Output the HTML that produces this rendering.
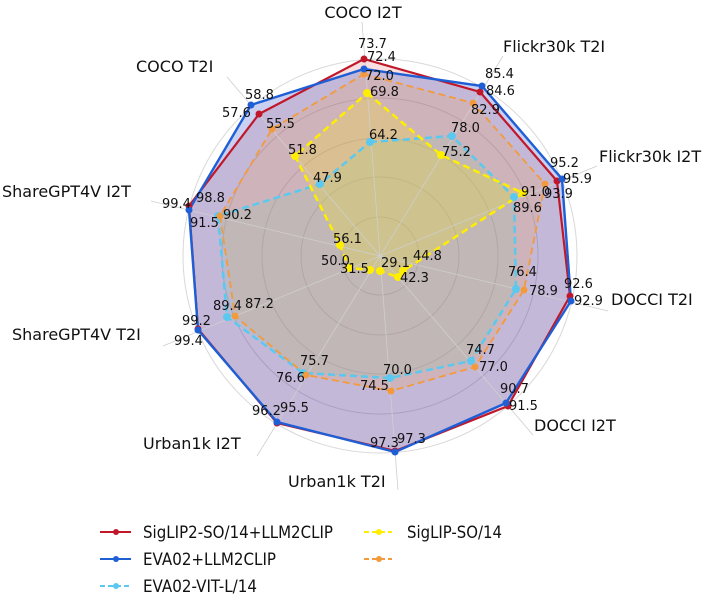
<!DOCTYPE html>
<html><head><meta charset="utf-8"><style>
html,body{margin:0;padding:0;background:#fff;}
svg{display:block;font-family:"DejaVu Sans","Liberation Sans",sans-serif;}
.ax{font-size:16px;fill:#111;}
.v{font-size:13px;fill:#111;}
.lg{font-size:16.5px;fill:#111;font-family:"DejaVu Sans",sans-serif;}
</style></head><body>
<svg width="719" height="598" viewBox="0 0 719 598" xmlns="http://www.w3.org/2000/svg">
<rect width="719" height="598" fill="#fff"/>
<g fill="none" stroke="#d8d8d8" stroke-width="1">
<circle cx="380" cy="256" r="39"/><circle cx="380" cy="256" r="79"/><circle cx="380" cy="256" r="118"/><circle cx="380" cy="256" r="158"/><circle cx="380" cy="256" r="197"/>
</g>
<polygon points="364,59 480,92 557,181 570,296 508,406 395,451 277,423 198,329 189,206 259,114" fill="#d62728" fill-opacity="0.15"/>
<polygon points="364,69 482,86 562,179 571,301 506,403 395,452 277,422 198,330 189,210 251,105" fill="#3048c8" fill-opacity="0.26"/>
<polygon points="364,74 473,103 545,184 524,290 475,367 391,391 306,375 235,316 220,216 272,129" fill="#ff9f40" fill-opacity="0.2"/>
<polygon points="370,142 452,136 514,197 516,289 471,361 390,378 303,373 227,317 218,216 320,184" fill="#8ec8b0" fill-opacity="0.2"/>
<polygon points="367,93 441,155 523,193 403,271 398,277 380,271 370,270 349,268 340,245 295,156" fill="#ffee00" fill-opacity="0.22"/>
<g stroke="#cfcfcf" stroke-width="0.8">
<line x1="380" y1="256" x2="362" y2="22"/><line x1="380" y1="256" x2="503" y2="56"/><line x1="380" y1="256" x2="597" y2="166"/><line x1="380" y1="256" x2="608" y2="311"/><line x1="380" y1="256" x2="533" y2="435"/><line x1="380" y1="256" x2="398" y2="490"/><line x1="380" y1="256" x2="257" y2="456"/><line x1="380" y1="256" x2="163" y2="346"/><line x1="380" y1="256" x2="151" y2="201"/><line x1="380" y1="256" x2="227" y2="77"/>
</g>
<polygon points="370,142 452,136 514,197 516,289 471,361 390,378 303,373 227,317 218,216 320,184" fill="none" stroke="#5bc8f0" stroke-width="2.5" stroke-dasharray="7,4"/>
<polygon points="364,74 473,103 545,184 524,290 475,367 391,391 306,375 235,316 220,216 272,129" fill="none" stroke="#f39a3c" stroke-width="1.8" stroke-dasharray="7,4"/>
<polygon points="367,93 441,155 523,193 403,271 398,277 380,271 370,270 349,268 340,245 295,156" fill="none" stroke="#ffee00" stroke-width="2.5" stroke-dasharray="7,4"/>
<polygon points="364,59 480,92 557,181 570,296 508,406 395,451 277,423 198,329 189,206 259,114" fill="none" stroke="#c0182a" stroke-width="2.2"/>
<polygon points="364,69 482,86 562,179 571,301 506,403 395,452 277,422 198,330 189,210 251,105" fill="none" stroke="#1f5fd6" stroke-width="2.4"/>
<g fill="#5bc8f0"><circle cx="370" cy="142" r="4"/><circle cx="452" cy="136" r="4"/><circle cx="514" cy="197" r="4"/><circle cx="516" cy="289" r="4"/><circle cx="471" cy="361" r="4"/><circle cx="390" cy="378" r="4"/><circle cx="303" cy="373" r="4"/><circle cx="227" cy="317" r="4"/><circle cx="218" cy="216" r="4"/><circle cx="320" cy="184" r="4"/></g>
<g fill="#f39a3c"><circle cx="364" cy="74" r="3.5"/><circle cx="473" cy="103" r="3.5"/><circle cx="545" cy="184" r="3.5"/><circle cx="524" cy="290" r="3.5"/><circle cx="475" cy="367" r="3.5"/><circle cx="391" cy="391" r="3.5"/><circle cx="306" cy="375" r="3.5"/><circle cx="235" cy="316" r="3.5"/><circle cx="220" cy="216" r="3.5"/><circle cx="272" cy="129" r="3.5"/></g>
<g fill="#ffee00"><circle cx="367" cy="93" r="4"/><circle cx="441" cy="155" r="4"/><circle cx="523" cy="193" r="4"/><circle cx="403" cy="271" r="4"/><circle cx="398" cy="277" r="4"/><circle cx="380" cy="271" r="4"/><circle cx="370" cy="270" r="4"/><circle cx="349" cy="268" r="4"/><circle cx="340" cy="245" r="4"/><circle cx="295" cy="156" r="4"/></g>
<g fill="#c0182a"><circle cx="364" cy="59" r="3.5"/><circle cx="480" cy="92" r="3.5"/><circle cx="557" cy="181" r="3.5"/><circle cx="570" cy="296" r="3.5"/><circle cx="508" cy="406" r="3.5"/><circle cx="395" cy="451" r="3.5"/><circle cx="277" cy="423" r="3.5"/><circle cx="198" cy="329" r="3.5"/><circle cx="189" cy="206" r="3.5"/><circle cx="259" cy="114" r="3.5"/></g>
<g fill="#1f5fd6"><circle cx="364" cy="69" r="3.5"/><circle cx="482" cy="86" r="3.5"/><circle cx="562" cy="179" r="3.5"/><circle cx="571" cy="301" r="3.5"/><circle cx="506" cy="403" r="3.5"/><circle cx="395" cy="452" r="3.5"/><circle cx="277" cy="422" r="3.5"/><circle cx="198" cy="330" r="3.5"/><circle cx="189" cy="210" r="3.5"/><circle cx="251" cy="105" r="3.5"/></g>
<text class="ax" x="363" y="18" text-anchor="middle">COCO I2T</text>
<text class="ax" x="503" y="52">Flickr30k T2I</text>
<text class="ax" x="599" y="162">Flickr30k I2T</text>
<text class="ax" x="611" y="305">DOCCI T2I</text>
<text class="ax" x="534" y="431">DOCCI I2T</text>
<text class="ax" x="288" y="487">Urban1k T2I</text>
<text class="ax" x="143" y="449">Urban1k I2T</text>
<text class="ax" x="12" y="340">ShareGPT4V T2I</text>
<text class="ax" x="2" y="197">ShareGPT4V I2T</text>
<text class="ax" x="136" y="72">COCO T2I</text>
<g class="v">
<text x="358" y="48">73.7</text><text x="367" y="61">72.4</text><text x="365" y="80">72.0</text><text x="370" y="96">69.8</text><text x="369" y="139">64.2</text>
<text x="485" y="78">85.4</text><text x="486" y="95">84.6</text><text x="471" y="114">82.9</text><text x="451" y="132">78.0</text><text x="442" y="156">75.2</text>
<text x="550" y="167">95.2</text><text x="563" y="183">95.9</text><text x="521" y="196">91.0</text><text x="544" y="198">93.9</text><text x="513" y="212">89.6</text>
<text x="245" y="99">58.8</text><text x="222" y="117">57.6</text><text x="266" y="128">55.5</text><text x="288" y="154">51.8</text><text x="313" y="182">47.9</text>
<text x="162" y="208">99.4</text><text x="196" y="202">98.8</text><text x="190" y="227">91.5</text><text x="223" y="219">90.2</text>
<text x="333" y="243">56.1</text><text x="321" y="265">50.0</text><text x="340" y="273">31.5</text><text x="381" y="267">29.1</text><text x="413" y="260">44.8</text><text x="400" y="282">42.3</text>
<text x="508" y="276">76.4</text><text x="564" y="288">92.6</text><text x="574" y="305">92.9</text><text x="529" y="295">78.9</text>
<text x="213" y="310">89.4</text><text x="245" y="308">87.2</text><text x="182" y="325">99.2</text><text x="174" y="345">99.4</text>
<text x="466" y="354">74.7</text><text x="479" y="371">77.0</text><text x="500" y="393">90.7</text><text x="509" y="410">91.5</text>
<text x="300" y="365">75.7</text><text x="276" y="382">76.6</text><text x="383" y="374">70.0</text><text x="360" y="390">74.5</text>
<text x="252" y="415">96.2</text><text x="280" y="412">95.5</text><text x="370" y="447">97.3</text><text x="397" y="443">97.3</text>
</g>
<line x1="100" y1="532" x2="131" y2="532" stroke="#c0182a" stroke-width="2"/><circle cx="116" cy="532" r="3" fill="#c0182a"/>
<text class="lg" x="143" y="538" textLength="190" lengthAdjust="spacingAndGlyphs">SigLIP2-SO/14+LLM2CLIP</text>
<line x1="100" y1="559" x2="131" y2="559" stroke="#1f5fd6" stroke-width="2"/><circle cx="116" cy="559" r="3" fill="#1f5fd6"/>
<text class="lg" x="143" y="565" textLength="133" lengthAdjust="spacingAndGlyphs">EVA02+LLM2CLIP</text>
<line x1="100" y1="586" x2="131" y2="586" stroke="#5bc8f0" stroke-width="2" stroke-dasharray="5,3"/><circle cx="116" cy="586" r="3" fill="#5bc8f0"/>
<text class="lg" x="143" y="592" textLength="114" lengthAdjust="spacingAndGlyphs">EVA02-VIT-L/14</text>
<line x1="364" y1="532" x2="392" y2="532" stroke="#ffee00" stroke-width="2" stroke-dasharray="5,3"/><circle cx="379" cy="532" r="3" fill="#ffee00"/>
<text class="lg" x="407" y="538" textLength="95" lengthAdjust="spacingAndGlyphs">SigLIP-SO/14</text>
<line x1="364" y1="559" x2="392" y2="559" stroke="#f39a3c" stroke-width="2" stroke-dasharray="5,3"/><circle cx="379" cy="559" r="3" fill="#f39a3c"/>
</svg>
</body></html>
